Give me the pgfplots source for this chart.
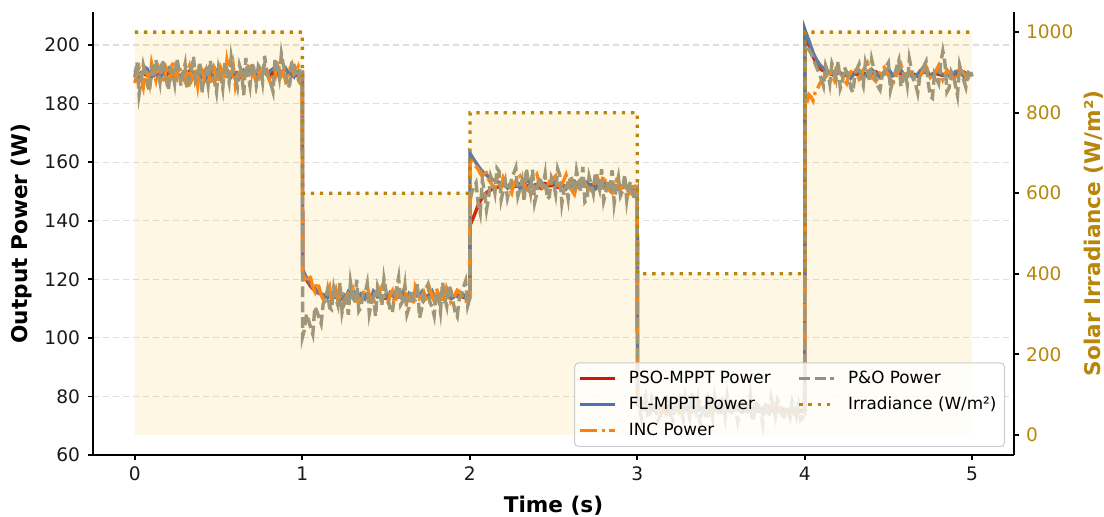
\documentclass[border=0pt]{standalone}
\usepackage{fontspec}
\setmainfont{DejaVu Sans}
\usepackage{pgfplots}
\usepackage{pgfplotstable}
\pgfplotsset{compat=1.18}

\definecolor{psored}{RGB}{204,24,8}
\definecolor{flblue}{RGB}{76,114,176}
\definecolor{incorange}{RGB}{255,127,14}
\definecolor{pogray}{RGB}{148,145,132}
\definecolor{irrgold}{RGB}{184,134,11}
\definecolor{irrfill}{RGB}{245,190,40}
\definecolor{gridgray}{RGB}{222,222,222}
\definecolor{legframe}{RGB}{204,204,204}

% Output power of the four trackers (W)
\pgfplotstableread{
t      pso    fl     inc    po
0.0000 190.2 191.5 187.0 189.1
0.0125 189.7 190.3 190.8 194.2
0.0250 189.1 188.4 192.3 183.0
0.0375 190.6 189.9 188.3 187.6
0.0500 190.8 190.9 185.6 193.2
0.0625 189.9 192.3 191.9 190.1
0.0750 189.6 191.8 189.9 186.4
0.0875 190.3 190.2 186.7 184.2
0.1000 190.5 189.2 193.8 191.7
0.1125 189.8 190.9 190.7 188.9
0.1250 191.2 190.4 188.1 195.0
0.1375 190.5 189.1 193.0 191.4
0.1500 189.4 187.9 191.6 187.3
0.1625 190.9 190.7 189.2 194.9
0.1750 190.1 190.6 186.9 192.8
0.1875 189.5 191.5 192.1 188.1
0.2000 190.9 192.0 190.4 184.6
0.2125 190.2 190.6 187.4 191.8
0.2250 189.8 189.5 194.5 190.9
0.2375 190.8 191.3 190.0 186.9
0.2500 190.3 190.1 188.7 195.4
0.2625 189.6 189.6 192.4 192.0
0.2750 189.5 188.8 191.2 186.1
0.2875 190.4 190.4 189.1 190.3
0.3000 190.7 191.3 187.5 193.6
0.3125 190.1 189.3 190.9 184.9
0.3250 191.0 190.2 192.8 188.0
0.3375 189.4 191.7 187.8 191.5
0.3500 189.9 189.0 189.3 196.1
0.3625 190.9 190.0 191.6 187.7
0.3750 190.4 191.1 186.4 189.4
0.3875 190.0 189.4 193.4 194.3
0.4000 189.2 190.7 190.9 183.5
0.4125 189.9 191.2 188.6 189.0
0.4250 190.6 188.6 193.1 191.2
0.4375 190.3 190.0 190.6 186.3
0.4500 190.0 190.3 188.2 194.7
0.4625 190.7 189.1 186.6 190.6
0.4750 191.3 192.2 191.7 187.8
0.4875 190.4 190.9 189.5 183.9
0.5000 189.7 189.8 187.0 192.3
0.5125 189.8 191.1 192.3 189.5
0.5250 190.2 190.5 190.6 185.2
0.5375 190.5 190.8 188.0 193.9
0.5500 190.9 191.6 194.9 190.5
0.5625 190.2 190.2 191.3 187.2
0.5750 189.3 189.3 189.1 195.8
0.5875 189.9 191.0 192.9 191.1
0.6000 190.5 190.0 186.2 188.6
0.6125 190.6 189.4 189.7 185.6
0.6250 190.1 188.9 191.4 193.1
0.6375 189.8 190.1 187.9 190.8
0.6500 189.6 191.4 188.8 182.9
0.6625 190.3 190.8 190.4 195.6
0.6750 190.8 190.6 192.5 190.0
0.6875 190.9 191.2 193.8 186.0
0.7000 191.1 192.4 189.6 194.2
0.7125 190.5 190.9 191.1 190.9
0.7250 189.9 190.2 185.9 187.0
0.7375 189.6 189.8 188.3 193.0
0.7500 190.3 189.4 191.0 191.9
0.7625 190.1 190.4 189.9 187.4
0.7750 190.6 191.0 193.6 196.3
0.7875 190.7 190.0 191.7 190.3
0.8000 189.4 190.8 188.4 189.2
0.8125 189.7 191.4 186.8 186.7
0.8250 190.7 191.9 190.2 184.1
0.8375 190.2 190.6 189.1 195.5
0.8500 191.4 189.7 194.3 192.7
0.8625 190.8 190.1 192.0 188.8
0.8750 190.0 190.5 189.5 197.0
0.8875 189.9 191.2 190.8 192.9
0.9000 189.5 192.1 187.7 190.4
0.9125 190.1 190.8 188.9 185.3
0.9250 190.9 190.3 191.8 186.5
0.9375 190.6 189.7 193.4 194.6
0.9500 190.2 189.1 190.1 193.4
0.9625 189.7 190.5 191.1 189.7
0.9750 189.8 190.9 192.6 188.3
0.9875 190.3 190.6 188.0 192.2
1.0000 190.4 190.2 189.4 191.0
1.0020 122.5 123.5 122.0 100.5
1.0125 121.1 122.0 120.6 102.8
1.0250 119.8 120.6 118.9 108.2
1.0375 118.7 119.4 121.6 106.0
1.0500 117.6 118.2 120.4 103.5
1.0625 116.9 117.5 117.3 101.2
1.0750 116.1 116.9 115.8 110.6
1.0875 115.6 116.1 118.9 109.0
1.1000 115.2 115.4 117.3 106.9
1.1125 114.9 115.1 114.6 104.8
1.1250 114.6 114.8 113.2 111.8
1.1375 114.3 114.2 113.8 112.6
1.1500 114.2 113.6 115.9 116.3
1.1625 114.5 114.8 117.5 110.3
1.1750 114.8 115.3 112.4 109.7
1.1875 114.0 113.9 114.7 117.0
1.2000 113.9 114.1 116.6 113.5
1.2125 114.4 115.6 112.9 111.1
1.2250 114.5 112.9 114.0 118.9
1.2375 114.1 113.7 115.8 108.7
1.2500 113.7 114.7 111.6 112.2
1.2625 113.8 114.2 113.3 115.3
1.2750 114.3 115.8 115.3 107.9
1.2875 114.7 114.9 116.2 119.1
1.3000 115.0 113.9 117.1 114.6
1.3125 114.3 115.4 114.1 111.7
1.3250 113.6 114.2 112.8 119.8
1.3375 113.9 113.4 111.8 109.2
1.3500 114.1 115.1 113.9 110.4
1.3625 114.5 114.8 115.2 114.8
1.3750 114.7 113.5 116.8 115.1
1.3875 114.2 114.9 117.9 118.5
1.4000 113.8 114.6 114.4 108.3
1.4125 114.0 113.9 113.0 112.1
1.4250 114.4 116.0 111.7 113.9
1.4375 114.8 115.3 115.0 107.4
1.4500 115.1 114.0 115.5 117.6
1.4625 114.4 114.5 116.4 115.6
1.4750 114.0 113.2 117.6 111.0
1.4875 113.6 114.0 114.2 120.1
1.5000 113.5 114.9 113.1 115.8
1.5125 114.1 113.6 112.0 113.1
1.5250 114.6 115.5 114.7 109.5
1.5375 114.5 115.0 116.0 108.6
1.5500 114.2 113.8 111.9 114.2
1.5625 114.0 114.7 113.6 116.9
1.5750 113.9 114.4 116.2 120.7
1.5875 114.3 113.8 114.8 111.3
1.6000 114.8 115.7 115.0 112.6
1.6125 114.6 114.4 117.2 117.8
1.6250 114.1 113.1 112.3 108.1
1.6375 113.8 115.1 113.9 110.5
1.6500 113.6 114.3 114.9 116.4
1.6625 114.2 113.5 111.6 112.8
1.6750 114.9 115.2 117.4 113.0
1.6875 114.6 114.3 115.6 118.6
1.7000 114.3 114.5 113.4 106.8
1.7125 114.1 115.6 114.1 109.9
1.7250 113.8 112.8 115.6 114.9
1.7375 113.9 113.9 113.2 116.7
1.7500 114.5 114.1 112.1 118.2
1.7625 114.8 114.8 116.5 112.0
1.7750 115.2 115.9 114.2 110.7
1.7875 114.5 114.1 112.6 107.6
1.8000 114.0 114.6 116.9 115.5
1.8125 113.7 113.9 115.1 114.4
1.8250 113.4 113.4 113.8 109.1
1.8375 114.0 115.2 114.3 119.0
1.8500 114.7 114.9 111.5 113.7
1.8625 114.5 114.3 117.0 110.8
1.8750 114.2 115.4 115.4 117.9
1.8875 114.1 113.5 112.2 116.2
1.9000 113.9 113.7 113.0 112.4
1.9125 114.3 114.6 114.8 108.9
1.9250 114.6 114.2 116.3 107.3
1.9375 114.4 113.8 115.9 113.4
1.9500 114.1 115.0 114.5 115.0
1.9625 113.9 114.7 113.5 117.3
1.9750 113.7 113.9 112.7 119.4
1.9875 114.1 115.0 114.6 110.9
2.0000 114.3 114.4 115.1 113.6
2.0020 138.5 163.0 161.0 147.0
2.0125 139.9 162.0 160.3 149.7
2.0250 141.6 160.8 159.2 151.4
2.0375 143.4 159.8 158.5 152.9
2.0500 145.3 158.7 157.6 146.0
2.0625 146.7 157.7 156.2 142.6
2.0750 147.9 156.9 155.1 153.8
2.0875 148.8 156.2 157.3 150.2
2.1000 149.6 155.6 156.4 143.7
2.1125 150.1 155.0 154.1 147.9
2.1250 150.5 154.5 153.0 155.2
2.1375 150.9 154.0 152.0 153.1
2.1500 151.2 153.7 150.8 149.6
2.1625 151.4 153.4 154.4 157.9
2.1750 151.6 153.1 152.9 156.9
2.1875 151.8 152.8 151.5 147.1
2.2000 152.0 152.3 154.7 150.3
2.2125 151.9 152.0 153.2 153.4
2.2250 151.5 151.2 151.3 147.8
2.2375 151.7 152.3 150.6 150.7
2.2500 152.3 153.0 149.4 154.5
2.2625 152.1 151.7 152.7 156.2
2.2750 151.8 152.6 153.6 158.1
2.2875 152.4 152.0 154.3 148.4
2.3000 152.6 151.0 155.2 151.0
2.3125 151.9 151.9 153.5 153.9
2.3250 151.3 152.8 151.9 146.6
2.3375 151.6 153.3 150.9 157.8
2.3500 152.1 153.9 150.3 153.3
2.3625 152.0 152.6 152.2 149.5
2.3750 151.7 151.6 153.8 157.4
2.3875 152.2 151.9 154.9 146.2
2.4000 152.4 152.2 155.9 149.2
2.4125 151.6 152.8 153.7 155.0
2.4250 151.1 153.4 152.0 152.8
2.4375 151.9 152.4 151.1 151.9
2.4500 152.7 151.5 149.7 156.0
2.4625 152.4 152.1 150.6 147.4
2.4750 151.9 152.7 153.3 148.1
2.4875 152.0 153.1 152.9 154.7
2.5000 152.2 153.6 154.6 152.9
2.5125 151.7 152.7 155.3 149.1
2.5250 151.4 151.8 150.9 157.7
2.5375 152.0 152.1 152.1 155.6
2.5500 152.5 152.4 152.5 145.9
2.5625 151.9 151.6 154.0 150.4
2.5750 151.6 150.9 155.7 151.7
2.5875 152.2 151.9 153.0 147.5
2.6000 152.8 152.9 151.2 155.4
2.6125 152.1 153.2 150.1 153.8
2.6250 151.2 153.5 149.0 149.9
2.6375 151.6 152.4 151.8 157.1
2.6500 152.0 151.4 153.1 153.6
2.6625 152.3 151.7 154.3 150.0
2.6750 152.6 152.0 154.9 158.4
2.6875 152.0 152.6 152.7 146.4
2.7000 151.5 153.2 151.6 147.3
2.7125 151.8 152.3 150.9 155.1
2.7250 152.3 151.7 150.4 152.4
2.7375 152.1 151.2 152.3 149.3
2.7500 151.8 150.8 153.9 156.6
2.7625 152.4 151.6 154.8 153.2
2.7750 152.9 152.5 152.2 150.6
2.7875 152.0 152.9 153.6 157.6
2.8000 151.3 153.3 155.4 146.8
2.8125 151.7 152.6 152.7 149.6
2.8250 152.1 151.9 151.0 154.1
2.8375 152.3 152.0 150.2 151.8
2.8500 152.5 152.1 149.5 157.2
2.8625 152.1 151.4 151.9 146.1
2.8750 151.7 150.7 153.7 151.3
2.8875 151.3 151.2 152.4 154.9
2.9000 151.0 151.6 150.7 148.5
2.9125 151.4 151.9 151.7 150.2
2.9250 151.9 152.3 152.8 155.8
2.9375 151.6 151.4 150.5 147.0
2.9500 151.4 150.5 149.2 152.0
2.9625 151.1 150.9 150.3 153.5
2.9750 150.8 151.2 151.5 147.4
2.9875 151.0 150.8 151.8 149.6
3.0000 151.2 150.6 150.1 150.9
3.0020 77.2 77.8 78.5 79.0
3.0125 76.8 77.3 76.6 76.1
3.0250 76.4 76.9 75.2 72.6
3.0375 76.1 76.2 76.9 78.4
3.0500 75.9 75.6 77.4 80.3
3.0625 76.0 76.0 75.7 73.8
3.0750 76.2 76.4 74.6 74.1
3.0875 75.9 75.8 75.9 79.7
3.1000 75.7 75.2 76.8 77.9
3.1125 75.8 76.0 77.5 75.0
3.1250 76.0 76.7 78.1 71.8
3.1375 75.7 76.3 76.4 73.4
3.1500 75.5 75.9 75.0 76.4
3.1625 75.9 75.3 74.4 78.9
3.1750 76.3 74.8 73.9 80.9
3.1875 76.0 75.5 75.6 76.6
3.2000 75.8 76.2 76.5 73.5
3.2125 75.6 75.8 77.1 71.9
3.2250 75.4 75.5 77.8 75.8
3.2375 75.7 76.1 76.0 78.2
3.2500 76.1 76.8 74.3 79.6
3.2625 75.9 76.0 74.9 75.5
3.2750 75.6 75.0 75.7 72.2
3.2875 76.0 75.4 76.3 79.8
3.3000 76.4 75.7 77.2 76.7
3.3125 75.8 76.1 76.0 73.1
3.3250 75.2 76.5 74.9 81.4
3.3375 75.6 75.7 75.5 77.5
3.3500 75.9 74.9 76.1 74.8
3.3625 76.0 75.3 77.3 79.0
3.3750 76.2 75.8 78.0 70.9
3.3875 75.9 76.0 76.8 74.5
3.4000 75.7 76.3 75.3 77.3
3.4125 75.5 75.7 74.4 72.6
3.4250 75.3 75.1 73.6 79.2
3.4375 75.6 75.4 75.1 76.9
3.4500 76.0 75.6 76.6 73.0
3.4625 75.8 76.1 77.2 79.9
3.4750 75.5 76.6 77.5 76.1
3.4875 75.7 75.7 75.6 74.0
3.5000 75.8 74.7 74.2 80.2
3.5125 76.0 75.0 75.0 77.4
3.5250 76.3 75.4 75.8 72.9
3.5375 75.7 75.7 76.4 80.1
3.5500 75.1 76.0 77.0 75.5
3.5625 75.5 75.6 75.9 73.6
3.5750 75.9 75.3 74.7 78.8
3.5875 75.7 75.9 75.5 76.3
3.6000 75.4 76.4 76.3 71.4
3.6125 75.5 75.5 77.4 74.7
3.6250 75.7 74.6 78.3 77.0
3.6375 75.9 75.0 76.7 79.3
3.6500 76.1 75.5 75.1 74.3
3.6625 75.7 75.7 74.5 76.2
3.6750 75.3 75.9 73.8 80.6
3.6875 75.5 76.0 75.3 71.5
3.7000 75.8 76.1 76.9 73.7
3.7125 75.4 75.6 76.2 77.6
3.7250 75.0 75.0 75.6 76.8
3.7375 75.3 75.3 74.8 74.9
3.7500 75.6 75.7 74.0 70.6
3.7625 75.8 75.2 75.2 78.1
3.7750 76.0 74.8 76.4 75.9
3.7875 75.6 75.2 76.9 73.0
3.8000 75.2 75.6 77.3 79.5
3.8125 75.3 75.9 75.9 76.6
3.8250 75.5 76.2 74.5 73.2
3.8375 75.2 75.6 74.9 79.0
3.8500 74.9 75.1 75.9 77.7
3.8625 75.3 74.8 74.8 74.2
3.8750 75.7 74.5 73.7 72.0
3.8875 75.4 74.9 75.0 76.5
3.9000 75.1 75.3 76.2 75.1
3.9125 74.9 75.1 75.5 72.8
3.9250 74.8 74.9 74.8 78.4
3.9375 75.1 75.3 74.1 76.3
3.9500 75.4 75.8 73.4 73.3
3.9625 75.2 75.4 74.6 77.0
3.9750 74.9 75.0 75.5 71.9
3.9875 75.1 75.1 74.9 72.4
4.0000 75.3 75.2 74.4 74.8
4.0020 204.5 205.0 181.5 200.0
4.0125 202.3 203.4 179.6 199.1
4.0250 200.0 201.6 183.1 198.4
4.0375 198.0 199.5 182.4 197.2
4.0500 196.1 197.4 181.0 195.6
4.0625 194.6 195.9 183.7 193.6
4.0750 193.2 194.6 184.8 191.9
4.0875 192.3 193.5 186.5 190.2
4.1000 191.6 192.7 187.9 188.3
4.1125 191.2 192.0 188.4 186.0
4.1250 190.8 191.4 189.2 193.0
4.1375 190.5 190.9 190.0 190.9
4.1500 190.3 190.3 190.9 186.8
4.1625 190.0 190.7 189.5 193.7
4.1750 189.7 189.6 188.1 191.7
4.1875 190.2 190.4 192.0 188.5
4.2000 190.5 191.2 191.6 194.6
4.2125 190.3 190.5 190.4 185.1
4.2250 190.1 189.9 189.3 187.1
4.2375 189.9 189.7 188.0 192.4
4.2500 189.6 190.8 186.9 190.8
4.2625 190.2 189.8 189.8 189.3
4.2750 190.7 188.7 190.7 185.4
4.2875 190.5 189.6 191.5 183.8
4.3000 190.2 190.5 192.2 189.6
4.3125 190.0 190.9 190.4 191.9
4.3250 189.9 191.3 188.5 193.5
4.3375 190.3 190.4 189.7 188.7
4.3500 190.6 189.4 191.4 186.2
4.3625 190.0 189.7 192.6 194.0
4.3750 189.4 190.0 193.9 191.3
4.3875 189.8 190.8 191.5 187.5
4.4000 190.3 191.7 189.0 195.1
4.4125 190.6 191.0 188.3 192.0
4.4250 190.9 190.4 187.6 188.0
4.4375 190.3 189.6 189.1 185.9
4.4500 189.8 188.9 190.5 184.7
4.4625 190.1 189.9 191.8 189.4
4.4750 190.4 190.9 192.4 190.2
4.4875 190.2 191.5 190.6 192.8
4.5000 190.0 192.0 189.8 194.0
4.5125 189.7 190.8 188.2 184.6
4.5250 189.5 189.6 186.5 187.5
4.5375 190.2 189.9 188.4 189.9
4.5500 190.8 190.2 190.0 192.6
4.5625 190.5 190.9 191.7 194.8
4.5750 190.2 191.5 193.3 185.8
4.5875 189.9 190.3 190.9 188.2
4.6000 189.7 189.2 188.6 190.7
4.6125 190.1 190.0 189.8 186.4
4.6250 190.6 190.7 191.1 195.3
4.6375 190.4 189.6 190.3 191.8
4.6500 190.1 188.5 189.4 188.4
4.6625 189.7 189.3 188.3 186.6
4.6750 189.3 190.1 187.3 183.6
4.6875 189.9 191.0 189.0 189.2
4.7000 190.5 191.8 190.6 191.5
4.7125 190.7 191.2 191.6 192.9
4.7250 190.9 190.6 192.7 194.4
4.7375 190.3 190.0 190.8 187.3
4.7500 189.8 189.5 188.9 182.5
4.7625 190.1 189.9 189.6 181.9
4.7750 190.4 190.4 190.3 190.1
4.7875 190.2 190.7 191.6 188.5
4.8000 190.0 191.0 193.0 186.9
4.8125 189.8 190.4 190.6 193.8
4.8250 189.6 189.8 188.2 198.0
4.8375 190.1 190.1 189.8 194.1
4.8500 190.7 190.5 191.5 184.0
4.8625 190.4 189.6 190.5 185.4
4.8750 190.2 188.8 189.6 191.0
4.8875 189.9 189.9 188.7 189.7
4.9000 189.5 190.9 187.8 186.3
4.9125 189.9 191.1 189.8 182.8
4.9250 190.3 191.4 191.9 193.1
4.9375 190.5 190.3 191.2 190.2
4.9500 190.8 189.3 190.4 187.9
4.9625 190.3 189.8 189.5 185.6
4.9750 189.9 190.2 188.7 190.6
4.9875 190.0 189.9 189.4 191.7
5.0000 190.1 189.7 190.2 189.3
}\powerdata

% Irradiance profile (W/m^2)
\pgfplotstableread{
t     irr
0.000 1000
1.000 1000
1.002 600
2.000 600
2.002 800
3.000 800
3.002 400
4.000 400
4.002 1000
5.000 1000
}\irrdata

\pgfplotsset{
  psostyle/.style={psored, line width=1.7pt},
  flstyle/.style={flblue, line width=1.7pt},
  incstyle/.style={incorange, line width=1.7pt, dash pattern=on 8.5pt off 2.2pt on 1.5pt off 2.2pt},
  postyle/.style={pogray, line width=1.7pt, dash pattern=on 5.4pt off 2.3pt},
  irrstyle/.style={irrgold, line width=1.65pt, dash pattern=on 1.65pt off 2.9pt},
  base/.style={
    scale only axis, width=460.5pt, height=221.5pt,
    xmin=-0.25, xmax=5.25,
    tick align=outside, major tick length=2.5pt,
    axis line style={black, line width=0.85pt},
    tick style={black, line width=0.85pt},
    ticklabel style={font=\fontsize{9.3}{11}\selectfont},
    /pgf/number format/assume math mode=true,
    /pgf/number format/1000 sep={},
  },
}

\begin{document}
\begin{tikzpicture}
\useasboundingbox (-46.5pt,-31pt) rectangle (505.5pt,227.5pt);

% power axis (left)
\begin{axis}[base,
  ymin=60, ymax=211.3,
  ytick={60,80,...,200}, xtick={0,1,...,5},
  axis x line*=bottom, axis y line*=left,
  ymajorgrids, major grid style={gridgray, line width=0.6pt, dash pattern=on 3pt off 2pt},
  xlabel={Time (s)}, ylabel={Output Power (W)},
  every axis x label/.style={at={(axis description cs:0.5,-0.1151)}, anchor=center,
    font=\fontsize{10.8}{13}\selectfont\bfseries},
  every axis y label/.style={at={(axis description cs:-0.0771,0.5)}, rotate=90, anchor=center,
    font=\fontsize{10.8}{13}\selectfont\bfseries},
  yticklabel style={text=black!90, xshift=-0.5pt},
  xticklabel style={text=black!90},
]
\addplot[psostyle] table[x=t, y=pso] {\powerdata};
\addplot[flstyle] table[x=t, y=fl] {\powerdata};
\addplot[incstyle] table[x=t, y=inc] {\powerdata};
\addplot[postyle] table[x=t, y=po] {\powerdata};
\end{axis}

% irradiance axis (right)
\begin{axis}[base,
  ymin=-50, ymax=1050,
  ytick={0,200,...,1000},
  axis x line=none, axis y line*=right,
  ylabel={Solar Irradiance (W/m²)},
  every axis y label/.style={at={(axis description cs:1.0863,0.5)}, rotate=90, anchor=center,
    text=irrgold, font=\fontsize{10.8}{13}\selectfont\bfseries},
  yticklabel style={text=irrgold},
  legend columns=2,
  legend cell align=left,
  legend image code/.code={\draw[#1] (0pt,0pt) -- (17.5pt,0pt); \path (21.5pt,0pt);},
  legend style={
    at={(axis description cs:1,0)}, anchor=south east, xshift=-4.5pt, yshift=4pt,
    draw=legframe, line width=0.5pt, rounded corners=2pt,
    fill=white, fill opacity=0.8, text opacity=1, draw opacity=1,
    font=\fontsize{8.4}{10}\selectfont,
    inner xsep=2pt, inner ysep=2pt,
    row sep=1.2pt,
    /tikz/every even column/.append style={column sep=11.5pt},
  },
]
\addplot[draw=none, fill=irrfill, fill opacity=0.13, forget plot] table[x=t, y=irr] {\irrdata} \closedcycle;
\addplot[irrstyle, forget plot] table[x=t, y=irr] {\irrdata};
\addlegendimage{psostyle}\addlegendentry{PSO-MPPT Power}
\addlegendimage{postyle}\addlegendentry{P\&O Power}
\addlegendimage{flstyle}\addlegendentry{FL-MPPT Power}
\addlegendimage{irrstyle}\addlegendentry{Irradiance (W/m²)}
\addlegendimage{incstyle}\addlegendentry{INC Power}
\end{axis}
\end{tikzpicture}
\end{document}
